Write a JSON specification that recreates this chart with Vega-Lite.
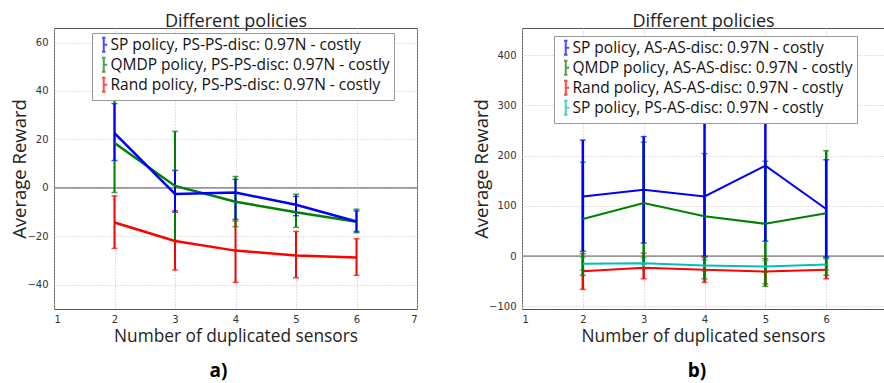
{
  "$schema": "https://vega.github.io/schema/vega-lite/v6.json",
  "bounds": "flush",
  "spacing": 105,
  "padding": {"left": 10, "top": 11, "right": 0, "bottom": 0},
  "resolve": {"scale": {"color": "independent", "y": "independent", "x": "independent"}, "legend": {"color": "independent"}},
  "config": {
    "font": "Open Sans",
    "view": {"stroke": "#555", "strokeWidth": 1},
    "axis": {
      "labelFont": "DejaVu Sans", "labelFontSize": 10, "labelColor": "#333",
      "titleFont": "Open Sans", "titleFontSize": 17.3, "titleFontWeight": "normal", "titleColor": "#222",
      "ticks": false, "domain": false, "gridColor": "#c4c4c4", "gridDash": [1, 2], "gridWidth": 1
    },
    "axisX": {"labelPadding": 5},
    "axisY": {"labelPadding": 6, "titleFontSize": 18.5},
    "legend": {
      "orient": "none", "title": null, "labelFont": "Open Sans", "labelFontSize": 15.5, "labelColor": "#111",
      "labelLimit": 600, "fillColor": "white", "strokeColor": "#999", "padding": 4, "rowPadding": -3,
      "symbolType": "M0,-1.8V1.8M-0.45,-1.8H0.45M-0.45,1.8H0.45M0,0H0.9", "symbolSize": 60, "symbolStrokeWidth": 2,
      "labelOffset": -1, "cornerRadius": 0
    },
    "title": {"font": "Open Sans", "fontSize": 19, "fontWeight": "bold", "color": "#000"}
  },
  "hconcat": [
    {
      "width": 363, "height": 281,
      "title": {"text": "a)", "orient": "bottom", "offset": 18, "dx": -17},
      "data": {"values": [
        {"n": 2, "policy": "Rand policy, PS-PS-disc: 0.97N - costly", "v": -14.3, "lo": -25, "hi": -3.3},
        {"n": 3, "policy": "Rand policy, PS-PS-disc: 0.97N - costly", "v": -21.9, "lo": -33.9, "hi": -9.4},
        {"n": 4, "policy": "Rand policy, PS-PS-disc: 0.97N - costly", "v": -25.9, "lo": -39, "hi": -13.7},
        {"n": 5, "policy": "Rand policy, PS-PS-disc: 0.97N - costly", "v": -27.9, "lo": -37.1, "hi": -18},
        {"n": 6, "policy": "Rand policy, PS-PS-disc: 0.97N - costly", "v": -28.7, "lo": -36.1, "hi": -21},
        {"n": 2, "policy": "QMDP policy, PS-PS-disc: 0.97N - costly", "v": 18.5, "lo": -1.9, "hi": 37.5},
        {"n": 3, "policy": "QMDP policy, PS-PS-disc: 0.97N - costly", "v": 0.8, "lo": -21.7, "hi": 23.3},
        {"n": 4, "policy": "QMDP policy, PS-PS-disc: 0.97N - costly", "v": -5.7, "lo": -16, "hi": 4.7},
        {"n": 5, "policy": "QMDP policy, PS-PS-disc: 0.97N - costly", "v": -10.1, "lo": -16.3, "hi": -2.6},
        {"n": 6, "policy": "QMDP policy, PS-PS-disc: 0.97N - costly", "v": -14.0, "lo": -18.5, "hi": -8.8},
        {"n": 2, "policy": "SP policy, PS-PS-disc: 0.97N - costly", "v": 22.6, "lo": 11.3, "hi": 34.8},
        {"n": 3, "policy": "SP policy, PS-PS-disc: 0.97N - costly", "v": -2.5, "lo": -10, "hi": 7.2},
        {"n": 4, "policy": "SP policy, PS-PS-disc: 0.97N - costly", "v": -1.9, "lo": -13, "hi": 3.5},
        {"n": 5, "policy": "SP policy, PS-PS-disc: 0.97N - costly", "v": -7.0, "lo": -11.5, "hi": -3.5},
        {"n": 6, "policy": "SP policy, PS-PS-disc: 0.97N - costly", "v": -13.9, "lo": -18, "hi": -9.5}
      ]},
      "resolve": {"axis": {"x": "independent"}},
      "layer": [
        {
          "data": {"values": [{"zero": 0}]},
          "mark": {"type": "rule", "color": "#999", "strokeWidth": 1.8},
          "encoding": {"y": {"field": "zero", "type": "quantitative",
                  "axis": {"title": "Average Reward", "values": [-40, -20, 0, 20, 40, 60], "grid": true, "titlePadding": -3}}}
        },
        {
          "mark": {"type": "errorbar", "ticks": {"size": 6, "thickness": 1.5}, "rule": {"strokeWidth": 2}},
          "encoding": {
            "x": {"field": "n", "type": "quantitative", "scale": {"domain": [1, 7], "nice": false}, "axis": null},
            "y": {"field": "lo", "type": "quantitative",
                  "axis": {"title": "Average Reward", "values": [-40, -20, 0, 20, 40, 60], "grid": true, "titlePadding": -3}},
            "y2": {"field": "hi"},
            "color": {"field": "policy", "type": "nominal"}
          }
        },
        {
          "mark": {"type": "line", "strokeWidth": 2.5},
          "encoding": {
            "x": {"field": "n", "type": "quantitative", "scale": {"domain": [1, 7], "nice": false},
                  "axis": {"title": "Number of duplicated sensors", "values": [1, 2, 3, 4, 5, 6, 7], "format": "d", "grid": true, "titlePadding": 3}},
            "y": {"field": "v", "type": "quantitative", "scale": {"domain": [-50, 66], "nice": false, "zero": false},
                  "axis": {"title": "Average Reward", "values": [-40, -20, 0, 20, 40, 60], "grid": true, "titlePadding": -3}},
            "color": {"field": "policy", "type": "nominal",
                      "scale": {"domain": ["SP policy, PS-PS-disc: 0.97N - costly", "QMDP policy, PS-PS-disc: 0.97N - costly", "Rand policy, PS-PS-disc: 0.97N - costly"],
                                "range": ["#0000ff", "#008000", "#ff0000"]},
                      "legend": {"legendX": 38, "legendY": 5}}
          }
        },
        {
          "mark": {"type": "point", "opacity": 0},
          "encoding": {
            "x": {"field": "n", "type": "quantitative",
                  "axis": {"orient": "top", "title": "Different policies", "titleFontSize": 18, "labels": false, "grid": false, "titlePadding": -2}},
            "y": {"field": "v", "type": "quantitative",
                  "axis": {"title": "Average Reward", "values": [-40, -20, 0, 20, 40, 60], "grid": true, "titlePadding": -3}}
          }
        }
      ]
    },
    {
      "width": 362, "height": 281,
      "title": {"text": "b)", "orient": "bottom", "offset": 18, "dx": -6},
      "data": {"values": [
        {"n": 2, "policy": "Rand policy, AS-AS-disc: 0.97N - costly", "v": -30, "lo": -66, "hi": 5},
        {"n": 3, "policy": "Rand policy, AS-AS-disc: 0.97N - costly", "v": -23, "lo": -45, "hi": 6},
        {"n": 4, "policy": "Rand policy, AS-AS-disc: 0.97N - costly", "v": -27, "lo": -52, "hi": -2},
        {"n": 5, "policy": "Rand policy, AS-AS-disc: 0.97N - costly", "v": -30.5, "lo": -55, "hi": -5},
        {"n": 6, "policy": "Rand policy, AS-AS-disc: 0.97N - costly", "v": -27, "lo": -45, "hi": -3},
        {"n": 2, "policy": "SP policy, PS-AS-disc: 0.97N - costly", "v": -15, "lo": -28, "hi": -2},
        {"n": 3, "policy": "SP policy, PS-AS-disc: 0.97N - costly", "v": -14, "lo": -25, "hi": -3},
        {"n": 4, "policy": "SP policy, PS-AS-disc: 0.97N - costly", "v": -18.5, "lo": -30, "hi": -7},
        {"n": 5, "policy": "SP policy, PS-AS-disc: 0.97N - costly", "v": -20.5, "lo": -32, "hi": -9},
        {"n": 6, "policy": "SP policy, PS-AS-disc: 0.97N - costly", "v": -16.5, "lo": -27, "hi": -5},
        {"n": 2, "policy": "QMDP policy, AS-AS-disc: 0.97N - costly", "v": 74, "lo": -38, "hi": 187},
        {"n": 3, "policy": "QMDP policy, AS-AS-disc: 0.97N - costly", "v": 106, "lo": -15, "hi": 227},
        {"n": 4, "policy": "QMDP policy, AS-AS-disc: 0.97N - costly", "v": 79.5, "lo": -45, "hi": 204},
        {"n": 5, "policy": "QMDP policy, AS-AS-disc: 0.97N - costly", "v": 64.5, "lo": -60, "hi": 189},
        {"n": 6, "policy": "QMDP policy, AS-AS-disc: 0.97N - costly", "v": 85.5, "lo": -38, "hi": 210},
        {"n": 2, "policy": "SP policy, AS-AS-disc: 0.97N - costly", "v": 119, "lo": 10, "hi": 231},
        {"n": 3, "policy": "SP policy, AS-AS-disc: 0.97N - costly", "v": 132, "lo": 26, "hi": 238},
        {"n": 4, "policy": "SP policy, AS-AS-disc: 0.97N - costly", "v": 119, "lo": 0, "hi": 266},
        {"n": 5, "policy": "SP policy, AS-AS-disc: 0.97N - costly", "v": 180, "lo": 30, "hi": 330},
        {"n": 6, "policy": "SP policy, AS-AS-disc: 0.97N - costly", "v": 94, "lo": -2, "hi": 192}
      ]},
      "resolve": {"axis": {"x": "independent"}},
      "layer": [
        {
          "data": {"values": [{"zero": 0}]},
          "mark": {"type": "rule", "color": "#999", "strokeWidth": 1.8},
          "encoding": {"y": {"field": "zero", "type": "quantitative",
                  "axis": {"title": "Average Reward", "values": [-100, 0, 100, 200, 300, 400], "grid": true, "titlePadding": -3}}}
        },
        {
          "mark": {"type": "errorbar", "ticks": {"size": 6, "thickness": 1.5}, "rule": {"strokeWidth": 2.5}},
          "encoding": {
            "x": {"field": "n", "type": "quantitative", "scale": {"domain": [1, 6.95], "nice": false}, "axis": null},
            "y": {"field": "lo", "type": "quantitative",
                  "axis": {"title": "Average Reward", "values": [-100, 0, 100, 200, 300, 400], "grid": true, "titlePadding": -3}},
            "y2": {"field": "hi"},
            "color": {"field": "policy", "type": "nominal"}
          }
        },
        {
          "mark": {"type": "line", "strokeWidth": 2},
          "encoding": {
            "x": {"field": "n", "type": "quantitative", "scale": {"domain": [1, 6.95], "nice": false},
                  "axis": {"title": "Number of duplicated sensors", "values": [1, 2, 3, 4, 5, 6], "format": "d", "grid": true, "titlePadding": 3}},
            "y": {"field": "v", "type": "quantitative", "scale": {"domain": [-105, 454], "nice": false, "zero": false},
                  "axis": {"title": "Average Reward", "values": [-100, 0, 100, 200, 300, 400], "grid": true, "titlePadding": -3}},
            "color": {"field": "policy", "type": "nominal",
                      "scale": {"domain": ["SP policy, AS-AS-disc: 0.97N - costly", "QMDP policy, AS-AS-disc: 0.97N - costly", "Rand policy, AS-AS-disc: 0.97N - costly", "SP policy, PS-AS-disc: 0.97N - costly"],
                                "range": ["#0000ff", "#008000", "#ff0000", "#00bfbf"]},
                      "legend": {"legendX": 32, "legendY": 8}}
          }
        },
        {
          "mark": {"type": "point", "opacity": 0},
          "encoding": {
            "x": {"field": "n", "type": "quantitative",
                  "axis": {"orient": "top", "title": "Different policies", "titleFontSize": 18, "labels": false, "grid": false, "titlePadding": -2}},
            "y": {"field": "v", "type": "quantitative",
                  "axis": {"title": "Average Reward", "values": [-100, 0, 100, 200, 300, 400], "grid": true, "titlePadding": -3}}
          }
        }
      ]
    }
  ]
}
